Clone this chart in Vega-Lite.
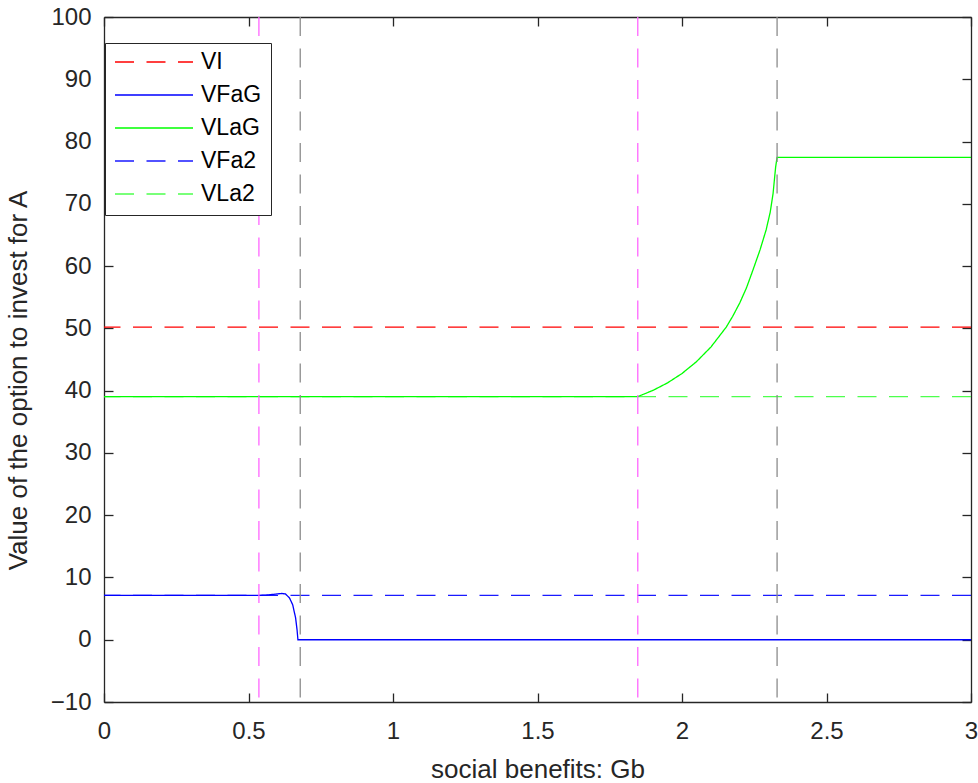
{
  "$schema": "https://vega.github.io/schema/vega-lite/v6.json",
  "width": 867,
  "height": 685,
  "autosize": {"type": "none"},
  "padding": {"left": 104, "top": 17, "right": 7, "bottom": 81},
  "background": "white",
  "datasets": {
    "curves": [
      {"series": "VFaG", "x": 0, "y": 7.13},
      {"series": "VFaG", "x": 0.54, "y": 7.13},
      {"series": "VFaG", "x": 0.57, "y": 7.2},
      {"series": "VFaG", "x": 0.6, "y": 7.36},
      {"series": "VFaG", "x": 0.615, "y": 7.43},
      {"series": "VFaG", "x": 0.628, "y": 7.35},
      {"series": "VFaG", "x": 0.642, "y": 6.7},
      {"series": "VFaG", "x": 0.653, "y": 5.6},
      {"series": "VFaG", "x": 0.663, "y": 3.5},
      {"series": "VFaG", "x": 0.668, "y": 1.6},
      {"series": "VFaG", "x": 0.671, "y": 0},
      {"series": "VFaG", "x": 3, "y": 0},
      {"series": "VLaG", "x": 0, "y": 39.04},
      {"series": "VLaG", "x": 1.847, "y": 39.04},
      {"series": "VLaG", "x": 1.9, "y": 40.05},
      {"series": "VLaG", "x": 1.95, "y": 41.25},
      {"series": "VLaG", "x": 2.0, "y": 42.75},
      {"series": "VLaG", "x": 2.05, "y": 44.65},
      {"series": "VLaG", "x": 2.1, "y": 47.0},
      {"series": "VLaG", "x": 2.125, "y": 48.5},
      {"series": "VLaG", "x": 2.153, "y": 50.2},
      {"series": "VLaG", "x": 2.175, "y": 51.9},
      {"series": "VLaG", "x": 2.2, "y": 54.1},
      {"series": "VLaG", "x": 2.223, "y": 56.5},
      {"series": "VLaG", "x": 2.245, "y": 59.3},
      {"series": "VLaG", "x": 2.27, "y": 62.6},
      {"series": "VLaG", "x": 2.291, "y": 65.8},
      {"series": "VLaG", "x": 2.305, "y": 68.6},
      {"series": "VLaG", "x": 2.315, "y": 71.6},
      {"series": "VLaG", "x": 2.324, "y": 75.9},
      {"series": "VLaG", "x": 2.329, "y": 77.47},
      {"series": "VLaG", "x": 3, "y": 77.47}
    ],
    "levels": [
      {"series": "VI", "y": 50.2},
      {"series": "VFa2", "y": 7.13},
      {"series": "VLa2", "y": 39.04}
    ],
    "verticals": [
      {"kind": "m", "x": 0.536},
      {"kind": "m", "x": 1.847},
      {"kind": "g", "x": 0.679},
      {"kind": "g", "x": 2.329}
    ]
  },
  "layer": [
    {
      "data": {"name": "levels"},
      "mark": {"type": "rule", "strokeWidth": 1.3},
      "encoding": {
        "y": {
          "field": "y", "type": "quantitative",
          "scale": {"domain": [-10, 100], "nice": false, "zero": false},
          "axis": {"orient": "right", "labels": false, "title": null, "values": [-10,0,10,20,30,40,50,60,70,80,90,100]}
        },
        "color": {
          "field": "series", "type": "nominal",
          "scale": {"domain": ["VI","VFaG","VLaG","VFa2","VLa2"], "range": ["#ff0000","#0000ff","#00ff00","#1a1aff","#4dff4d"]}
        },
        "strokeDash": {
          "field": "series", "type": "nominal",
          "scale": {"domain": ["VI","VFaG","VLaG","VFa2","VLa2"], "range": [[19,12.5],[1,0],[1,0],[19,12.5],[19,12.5]]}
        }
      }
    },
    {
      "data": {"name": "curves"},
      "mark": {"type": "line", "strokeWidth": 1.3, "interpolate": "linear"},
      "encoding": {
        "x": {
          "field": "x", "type": "quantitative",
          "scale": {"domain": [0, 3], "nice": false, "zero": false},
          "axis": {"orient": "bottom", "title": "social benefits: Gb", "values": [0,0.5,1,1.5,2,2.5,3], "format": "~g", "labelPadding": 26, "titlePadding": 13}
        },
        "y": {
          "field": "y", "type": "quantitative",
          "scale": {"domain": [-10, 100], "nice": false, "zero": false},
          "axis": {"orient": "left", "title": "Value of the option to invest for A", "values": [-10,0,10,20,30,40,50,60,70,80,90,100], "titlePadding": 19, "titleY": 363}
        },
        "color": {
          "field": "series", "type": "nominal",
          "scale": {"domain": ["VI","VFaG","VLaG","VFa2","VLa2"], "range": ["#ff0000","#0000ff","#00ff00","#1a1aff","#4dff4d"]},
          "legend": {
            "title": null,
            "orient": "none",
            "legendX": 1,
            "legendY": 26,
            "symbolType": "stroke",
            "symbolSize": 6084,
            "symbolStrokeWidth": 1.3,
            "clipHeight": 20,
            "rowPadding": 10,
            "labelFontSize": 23,
            "labelFont": "Liberation Sans",
            "labelColor": "#000000",
            "labelOffset": 7,
            "padding": 9,
            "fillColor": "white",
            "strokeColor": "#262626",
            "values": ["VI","VFaG","VLaG","VFa2","VLa2"]
          }
        },
        "strokeDash": {
          "field": "series", "type": "nominal",
          "scale": {"domain": ["VI","VFaG","VLaG","VFa2","VLa2"], "range": [[19,12.5],[1,0],[1,0],[19,12.5],[19,12.5]]},
          "legend": {
            "title": null,
            "orient": "none",
            "legendX": 1,
            "legendY": 26,
            "symbolType": "stroke",
            "symbolSize": 6084,
            "symbolStrokeWidth": 1.3,
            "clipHeight": 20,
            "rowPadding": 10,
            "labelFontSize": 23,
            "labelFont": "Liberation Sans",
            "labelColor": "#000000",
            "labelOffset": 7,
            "padding": 9,
            "fillColor": "white",
            "strokeColor": "#262626",
            "values": ["VI","VFaG","VLaG","VFa2","VLa2"]
          }
        }
      }
    },
    {
      "data": {"name": "verticals"},
      "transform": [{"filter": "datum.kind === 'm'"}],
      "mark": {"type": "rule", "strokeWidth": 1.3, "color": "#ff66ff", "strokeDash": [19, 12.5]},
      "encoding": {
        "x": {
          "field": "x", "type": "quantitative",
          "scale": {"domain": [0, 3], "nice": false, "zero": false},
          "axis": {"orient": "top", "labels": false, "title": null, "values": [0,0.5,1,1.5,2,2.5,3]}
        }
      }
    },
    {
      "data": {"name": "verticals"},
      "transform": [{"filter": "datum.kind === 'g'"}],
      "mark": {"type": "rule", "strokeWidth": 1.3, "color": "#8c8c8c", "strokeDash": [19, 12.5]},
      "encoding": {
        "x": {
          "field": "x", "type": "quantitative",
          "scale": {"domain": [0, 3], "nice": false, "zero": false},
          "axis": null
        }
      }
    }
  ],
  "resolve": {"axis": {"x": "independent", "y": "independent"}},
  "config": {
    "view": {"stroke": null},
    "axis": {
      "grid": false,
      "domainColor": "#262626",
      "domainWidth": 1.3,
      "tickColor": "#262626",
      "tickWidth": 1.3,
      "tickSize": -9,
      "labelPadding": 22,
      "labelFont": "Liberation Sans",
      "labelFontSize": 24,
      "labelColor": "#262626",
      "titleFont": "Liberation Sans",
      "titleFontSize": 26,
      "titleFontWeight": "normal",
      "titleColor": "#262626",
      "labelFlush": false,
      "labelOverlap": false
    }
  }
}
